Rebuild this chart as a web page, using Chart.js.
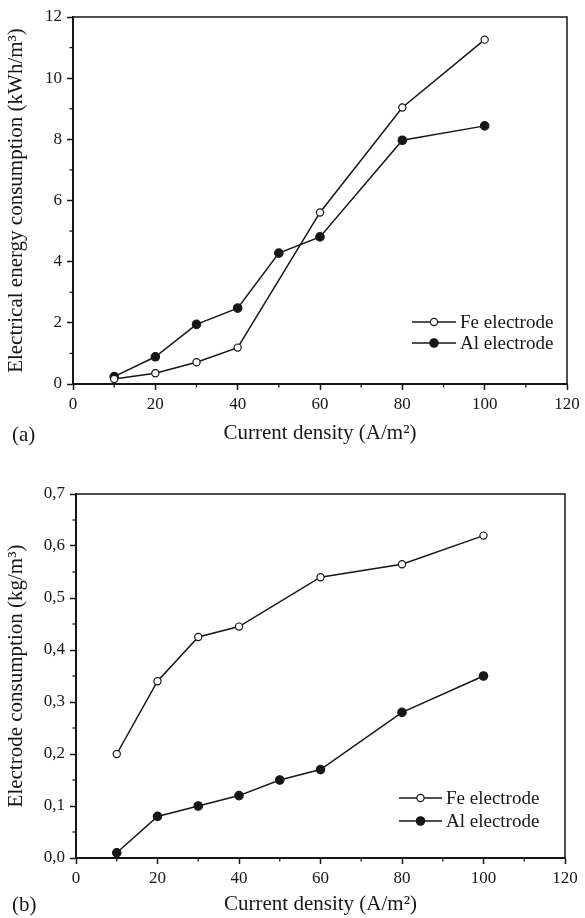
<!DOCTYPE html>
<html><head><meta charset="utf-8">
<script src="https://cdn.jsdelivr.net/npm/chart.js@4/dist/chart.umd.min.js"></script>
<style>
html,body{margin:0;padding:0;background:#fff;}
.panel{position:relative;width:585px;height:459px;}
canvas{display:block;}
</style></head><body>
<div class="panel"><canvas id="ca" width="585" height="459"></canvas></div>
<div class="panel"><canvas id="cb" width="585" height="459"></canvas></div>
<script>
// ---- data ----
const feDensity = [10, 20, 30, 40, 60, 80, 100];
const alDensity = [10, 20, 30, 40, 50, 60, 80, 100];
// (a) electrical energy consumption, kWh/m3
const feEnergy = [0.16, 0.35, 0.71, 1.19, 5.61, 9.04, 11.26];
const alEnergy = [0.24, 0.89, 1.95, 2.48, 4.28, 4.81, 7.97, 8.44];
// (b) electrode consumption, kg/m3
const feElectrode = [0.20, 0.34, 0.425, 0.445, 0.54, 0.565, 0.62];
const alElectrode = [0.01, 0.08, 0.10, 0.12, 0.15, 0.17, 0.28, 0.35];
const seriesNames = ['Fe electrode', 'Al electrode'];
const xTitle = 'Current density (A/m\u00B2)';
const yTitleA = 'Electrical energy consumption (kWh/m\u00B3)';
const yTitleB = 'Electrode consumption (kg/m\u00B3)';

const INK = '#161616';
const SERIF = '"Liberation Serif", "Times New Roman", serif';

function pts(xs, ys) { return xs.map((x, i) => ({x: x, y: ys[i]})); }

const decor = {
  id: 'decor',
  afterDatasetsDraw(chart, args, opts) {
    const ctx = chart.ctx, ca = chart.chartArea;
    ctx.save();
    // frame (top/right)
    ctx.strokeStyle = INK; ctx.lineWidth = 1.5;
    ctx.beginPath();
    ctx.moveTo(ca.left, ca.top); ctx.lineTo(ca.right, ca.top); ctx.lineTo(ca.right, ca.bottom);
    ctx.stroke();
    // minor ticks
    ctx.lineWidth = 1.3;
    const xs = chart.scales.x, ys = chart.scales.y;
    for (let v = xs.min + opts.xMinor; v < xs.max; v += opts.xMinor * 2) {
      const px = xs.getPixelForValue(v);
      ctx.beginPath(); ctx.moveTo(px, ca.bottom); ctx.lineTo(px, ca.bottom + 3.5); ctx.stroke();
    }
    for (let k = 1; ; k += 2) {
      const v = ys.min + k * opts.yMinor;
      if (v >= ys.max - 1e-9) break;
      const py = ys.getPixelForValue(v);
      ctx.beginPath(); ctx.moveTo(ca.left, py); ctx.lineTo(ca.left - 3.5, py); ctx.stroke();
    }
    // legend
    const L = opts.legend;
    chart.data.datasets.forEach((ds, i) => {
      const y = L.y + i * L.row;
      ctx.strokeStyle = ds.borderColor; ctx.lineWidth = 1.5;
      ctx.beginPath(); ctx.moveTo(L.x, y); ctx.lineTo(L.x + L.len, y); ctx.stroke();
      ctx.beginPath(); ctx.arc(L.x + L.len / 2, y, ds.pointRadius, 0, Math.PI * 2);
      ctx.fillStyle = ds.pointBackgroundColor; ctx.fill();
      ctx.lineWidth = ds.pointBorderWidth; ctx.strokeStyle = ds.pointBorderColor; ctx.stroke();
      ctx.fillStyle = INK; ctx.font = L.font + 'px ' + SERIF;
      ctx.textBaseline = 'middle'; ctx.textAlign = 'left';
      ctx.fillText(ds.label, L.x + L.len + L.gap, y + 1);
    });
    // panel tag
    ctx.font = '21px ' + SERIF; ctx.fillStyle = INK;
    ctx.textBaseline = 'alphabetic'; ctx.textAlign = 'left';
    ctx.fillText(opts.tag.text, opts.tag.x, opts.tag.y);
    ctx.restore();
  }
};

function makePanel(id, feY, alY, cfg) {
  const common = {borderColor: INK, borderWidth: 1.5, pointBorderColor: INK, pointBorderWidth: 1.2,
                  showLine: true, tension: 0, clip: false};
  return new Chart(document.getElementById(id), {
    type: 'scatter',
    data: {
      datasets: [
        Object.assign({label: seriesNames[0], data: pts(feDensity, feY), pointRadius: 3.6,
          pointBackgroundColor: '#ffffff', pointHoverRadius: 3.6}, common),
        Object.assign({label: seriesNames[1], data: pts(alDensity, alY), pointRadius: 4.2,
          pointBackgroundColor: INK, pointHoverRadius: 4.2}, common)
      ]
    },
    options: {
      responsive: false, animation: false, devicePixelRatio: 1,
      layout: {padding: {left: 0, top: cfg.top, right: cfg.right, bottom: 0}},
      plugins: {legend: {display: false}, tooltip: {enabled: false}, decor: cfg.decor},
      scales: {
        x: {
          type: 'linear', min: 0, max: 120,
          ticks: {stepSize: 20, autoSkip: false, maxRotation: 0, padding: 4, color: INK,
                  font: {family: SERIF, size: 17}},
          grid: {drawOnChartArea: false, drawTicks: true, tickLength: 6, tickColor: INK, tickWidth: 1.5},
          border: {display: true, color: INK, width: 2},
          title: {display: true, text: xTitle, color: INK, font: {family: SERIF, size: 21},
                  padding: {top: 0, bottom: cfg.xTitlePad}},
          afterFit: s => { s.height = cfg.xH; }
        },
        y: {
          type: 'linear', min: 0, max: cfg.yMax,
          ticks: {stepSize: cfg.yStep, autoSkip: false, padding: 5, color: INK,
                  font: {family: SERIF, size: 17}, callback: cfg.yFmt},
          grid: {drawOnChartArea: false, drawTicks: true, tickLength: 6, tickColor: INK, tickWidth: 1.5},
          border: {display: true, color: INK, width: 2},
          title: {display: true, text: cfg.yTitle, color: INK, font: {family: SERIF, size: 21},
                  padding: {top: 4, bottom: 0}},
          afterFit: s => { s.width = cfg.yW; }
        }
      }
    },
    plugins: [decor]
  });
}

makePanel('ca', feEnergy, alEnergy, {
  top: 17, right: 18, xH: 75, yW: 73, yMax: 12, yStep: 2, xTitlePad: 12.8,
  yTitle: yTitleA, yFmt: v => String(v),
  decor: {xMinor: 10, yMinor: 1, legend: {x: 412, y: 322, row: 21, len: 44, gap: 4, font: 19},
          tag: {text: '(a)', x: 12, y: 441}}
});
makePanel('cb', feElectrode, alElectrode, {
  top: 35, right: 20, xH: 60, yW: 76, yMax: 0.7, yStep: 0.1, xTitlePad: 0.8,
  yTitle: yTitleB, yFmt: v => Number(v).toFixed(1).replace('.', ','),
  decor: {xMinor: 10, yMinor: 0.05, legend: {x: 399, y: 339, row: 23, len: 43, gap: 4, font: 19},
          tag: {text: '(b)', x: 12, y: 452}}
});
</script>
</body></html>
